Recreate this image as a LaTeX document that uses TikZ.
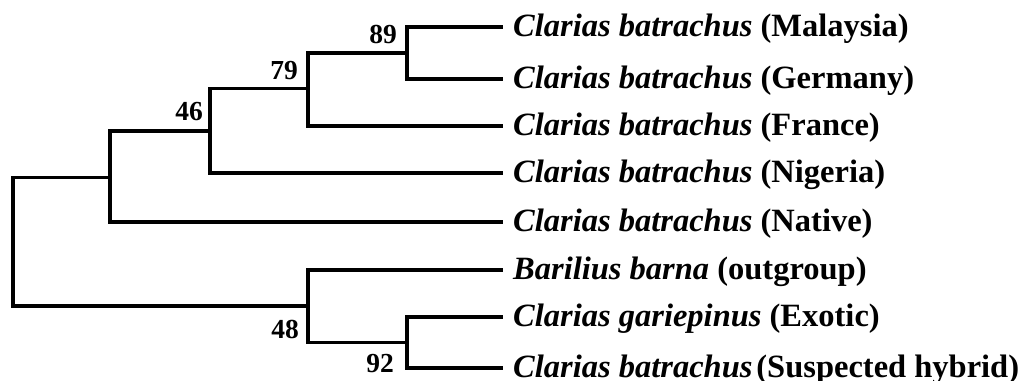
\documentclass[tikz,border=0pt]{standalone}
\usepackage{fontspec}
\setmainfont{Liberation Serif}
\usepackage{tikz}

\begin{document}
\begin{tikzpicture}[x=1pt,y=-1pt]
      \tikzset{branch/.style={line width=3.6pt},
        leaf/.style={anchor=base west,inner sep=0pt,font=\fontsize{32.5}{36}\selectfont\bfseries},
        boot/.style={anchor=base east,inner sep=0pt,font=\fontsize{27.5}{30}\selectfont\bfseries}}
      \useasboundingbox (0,0) rectangle (1032,380);
      % tips
      \coordinate (malaysia) at (503,27);
      \coordinate (germany) at (503,79);
      \coordinate (france) at (503,126);
      \coordinate (nigeria) at (503,173);
      \coordinate (native) at (503,222);
      \coordinate (barilius) at (503,270);
      \coordinate (gariepinus) at (503,317);
      \coordinate (hybrid) at (503,368);
      % internal nodes
      \coordinate (n89) at (407,53);
      \coordinate (n79) at (308,88.5);
      \coordinate (n46) at (210,131);
      \coordinate (nbat) at (110,177.5);
      \coordinate (n92) at (407,342.5);
      \coordinate (n48) at (308,306);
      \coordinate (root) at (13,242);
      \draw [branch] (n89) |- (malaysia);
      \draw [branch] (n89) |- (germany);
      \draw [branch] (n79) |- (n89);
      \draw [branch] (n79) |- (france);
      \draw [branch] (n46) |- (n79);
      \draw [branch] (n46) |- (nigeria);
      \draw [branch] (nbat) |- (n46);
      \draw [branch] (nbat) |- (native);
      \draw [branch] (n92) |- (gariepinus);
      \draw [branch] (n92) |- (hybrid);
      \draw [branch] (n48) |- (barilius);
      \draw [branch] (n48) |- (n92);
      \draw [branch] (root) |- (nbat);
      \draw [branch] (root) |- (n48);
      % bootstrap values
      \node [boot] (b89) at ([xshift=-10pt,yshift=10pt]n89) {89};
      \node [boot] (b79) at ([xshift=-10pt,yshift=9pt]n79) {79};
      \node [boot] (b46) at ([xshift=-7pt,yshift=11pt]n46) {46};
      \node [boot] (b48) at ([xshift=-9pt,yshift=-32pt]n48) {48};
      \node [boot] (b92) at ([xshift=-13pt,yshift=-29.5pt]n92) {92};
      % taxa
      \node [leaf] (tmalaysia) at ([xshift=10pt,yshift=-9pt]malaysia) {\textit{Clarias batrachus} (Malaysia)};
      \node [leaf] (tgermany) at ([xshift=10pt,yshift=-9pt]germany) {\textit{Clarias batrachus} (Germany)};
      \node [leaf] (tfrance) at ([xshift=10pt,yshift=-9pt]france) {\textit{Clarias batrachus} (France)};
      \node [leaf] (tnigeria) at ([xshift=10pt,yshift=-9pt]nigeria) {\textit{Clarias batrachus} (Nigeria)};
      \node [leaf] (tnative) at ([xshift=10pt,yshift=-9pt]native) {\textit{Clarias batrachus} (Native)};
      \node [leaf] (tbarilius) at ([xshift=10pt,yshift=-9pt]barilius) {\textit{Barilius barna} (outgroup)};
      \node [leaf] (tgariepinus) at ([xshift=10pt,yshift=-9pt]gariepinus) {\textit{Clarias gariepinus} (Exotic)};
      \node [leaf] (thybrid) at ([xshift=10pt,yshift=-9pt]hybrid) {\textit{Clarias batrachus}\hspace{0.12em}(Suspected hybrid)};
    \end{tikzpicture}
\end{document}
